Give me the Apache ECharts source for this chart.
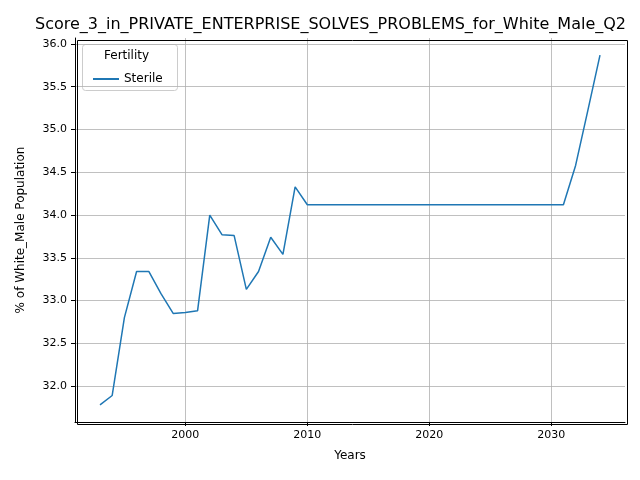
<!DOCTYPE html>
<html><head><meta charset="utf-8">
<script src="https://cdn.jsdelivr.net/npm/echarts@6/dist/echarts.min.js"></script>
<style>html,body{margin:0;background:#fff}#c{width:640px;height:480px}</style>
</head><body><div id="c"></div>
<script>
const years = [1993,1994,1995,1996,1997,1998,1999,2000,2001,2002,2003,2004,2005,2006,2007,2008,2009,2010,
  2011,2012,2013,2014,2015,2016,2017,2018,2019,2020,2021,2022,2023,2024,2025,2026,2027,2028,2029,2030,2031,2032,2033,2034];
const sterile = [31.78,31.89,32.80,33.34,33.34,33.08,32.85,32.86,32.88,34.00,33.77,33.76,33.13,33.34,33.74,33.54,34.33,34.12,
  34.12,34.12,34.12,34.12,34.12,34.12,34.12,34.12,34.12,34.12,34.12,34.12,34.12,34.12,34.12,34.12,34.12,34.12,34.12,34.12,34.12,34.58,35.22,35.87];
const xTicks = [2000,2010,2020,2030];
const yTicks = [32.0,32.5,33.0,33.5,34.0,34.5,35.0,35.5,36.0];

const chart = echarts.init(document.getElementById('c'));
const font = 'DejaVu Sans';
const axisCommon = {
  axisLine: {show: true, onZero: false, lineStyle: {color: '#000'}},
  splitLine: {show: true, lineStyle: {color: '#b0b0b0', width: 0.8}},
  nameLocation: 'middle',
  nameTextStyle: {fontFamily: font, fontSize: 12, color: '#000'}
};
chart.setOption({
  animation: false,
  title: {text: 'Score_3_in_PRIVATE_ENTERPRISE_SOLVES_PROBLEMS_for_White_Male_Q2', left: 30, top: 12,
    textStyle: {fontFamily: font, fontSize: 16, fontWeight: 'normal', color: '#000'}},
  grid: {left: 75, right: 15, top: 38, bottom: 58},
  legend: {show: true, left: 88, top: 68, orient: 'vertical', itemWidth: 26, itemHeight: 2,
    textStyle: {fontFamily: font, fontSize: 12, color: '#000'},
    icon: 'rect', data: ['Sterile']},
  graphic: [
    {type: 'rect', left: 75, top: 38, shape: {width: 550, height: 384},
      style: {fill: 'none', stroke: '#000', lineWidth: 1}, z: 10, silent: true},
    {type: 'rect', left: 82, top: 44, shape: {width: 95, height: 46, r: 3},
      style: {fill: '#fff', stroke: '#ccc'}, z: 0},
    {type: 'text', left: 104, top: 50, style: {text: 'Fertility', font: '12px DejaVu Sans', fill: '#000'}}
  ],
  xAxis: Object.assign({}, axisCommon, {type: 'value', min: 1990.95, max: 2036.05, name: 'Years', nameGap: 28,
    axisTick: {show: true, length: 4, customValues: xTicks, lineStyle: {color: '#000'}},
    axisLabel: {customValues: xTicks, fontFamily: font, fontSize: 11, color: '#000', formatter: v => String(v)}}),
  yAxis: Object.assign({}, axisCommon, {type: 'value', min: 31.58, max: 36.07, name: '% of White_Male Population', nameGap: 48,
    axisTick: {show: true, length: 4, customValues: yTicks, lineStyle: {color: '#000'}},
    axisLabel: {customValues: yTicks, fontFamily: font, fontSize: 11, color: '#000', formatter: v => v.toFixed(1)}}),
  series: [{name: 'Sterile', type: 'line', showSymbol: false, lineStyle: {color: '#1f77b4', width: 1.5}, itemStyle: {color: '#1f77b4'},
    data: years.map((y, i) => [y, sterile[i]])}]
});
</script></body></html>
